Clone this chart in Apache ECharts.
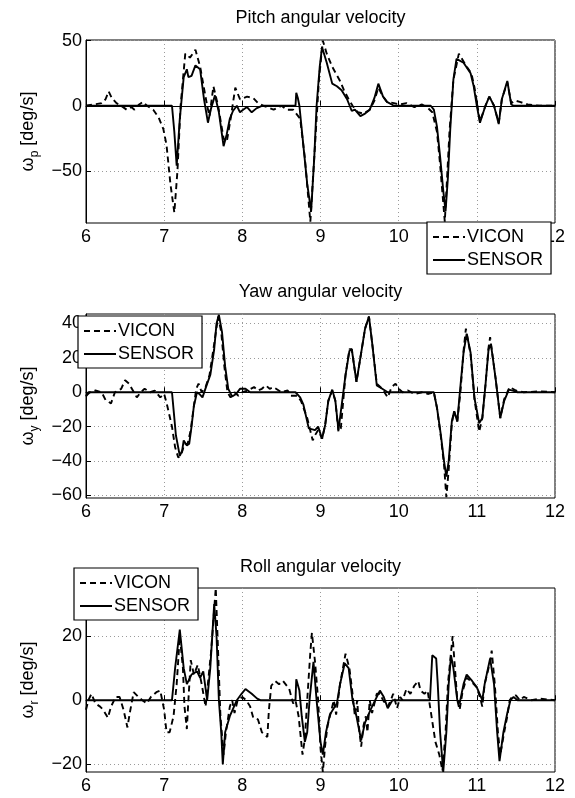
<!DOCTYPE html>
<html><head><meta charset="utf-8">
<script src="https://cdn.jsdelivr.net/npm/echarts@6/dist/echarts.min.js"></script>
<style>html,body{margin:0;padding:0;background:#fff}#c{width:575px;height:798px}</style>
</head><body><div id="c"></div>
<script>
const xTicks = [6, 7, 8, 9, 10, 11, 12];
const titles = ['Pitch angular velocity', 'Yaw angular velocity', 'Roll angular velocity'];
const ySubs = ['p', 'y', 'r'];
const yTicksPitch = [-50, 0, 50];
const yTicksYaw = [-60, -40, -20, 0, 20, 40];
const yTicksRoll = [-20, 0, 20];
const seriesNames = ['VICON', 'SENSOR'];

const pitchVicon = [[6,0],[6.1,1],[6.2,2],[6.25,5],[6.29,11],[6.33,6],[6.39,2],[6.45,0],[6.52,-3],[6.58,-1],[6.62,-3],[6.68,1],[6.73,3],[6.78,0],[6.86,-3],[6.93,-9],[6.99,-18],[7.03,-30],[7.08,-60],[7.13,-82],[7.17,-50],[7.21,0],[7.27,40],[7.33,37],[7.4,43],[7.46,30],[7.55,0],[7.58,-8],[7.63,15],[7.69,0],[7.76,-25],[7.8,-28],[7.85,-10],[7.91,14],[7.97,5],[8.06,7],[8.14,6],[8.2,2],[8.27,0],[8.4,-3],[8.5,0],[8.57,-3],[8.65,-3],[8.74,-10],[8.8,-40],[8.87,-89],[8.93,-30],[8.98,20],[9.03,50],[9.08,40],[9.15,30],[9.25,19],[9.3,12],[9.36,5],[9.41,0],[9.48,-5],[9.55,-6],[9.63,-3],[9.69,4],[9.74,14],[9.79,8],[9.85,3],[9.94,2],[10.02,1],[10.1,2],[10.2,-1],[10.3,1],[10.38,-2],[10.43,-5],[10.49,-20],[10.53,-45],[10.59,-89],[10.65,-20],[10.7,20],[10.77,40],[10.83,34],[10.87,30],[10.93,25],[10.97,14],[11.04,-12],[11.11,0],[11.16,7],[11.22,0],[11.28,-13],[11.32,5],[11.39,18],[11.44,2],[11.49,4],[11.55,3],[11.65,1],[11.8,0],[12,0]];
const pitchSensor = [[6,0],[7.1,0],[7.13,-20],[7.16,-46],[7.2,-10],[7.25,22],[7.29,28],[7.31,22],[7.35,23],[7.4,31],[7.46,28],[7.51,5],[7.56,-13],[7.6,-2],[7.65,8],[7.7,-5],[7.76,-31],[7.8,-22],[7.84,-10],[7.88,-4],[7.93,0],[7.97,-5],[8.01,-3],[8.06,-1],[8.12,-5],[8.18,-2],[8.25,0],[8.68,0],[8.69,10],[8.71,6],[8.73,0],[8.78,-30],[8.83,-60],[8.88,-81],[8.92,-40],[8.95,0],[8.99,30],[9.02,45],[9.08,33],[9.15,17],[9.21,15],[9.27,12],[9.34,5],[9.4,-4],[9.44,-3],[9.51,-8],[9.57,-6],[9.63,-3],[9.69,6],[9.74,17],[9.8,7],[9.85,3],[9.94,0],[10.41,0],[10.45,-3],[10.49,-16],[10.53,-39],[10.57,-65],[10.6,-81],[10.63,-55],[10.66,-18],[10.7,20],[10.74,36],[10.83,33],[10.92,25],[10.96,15],[11.0,0],[11.04,-13],[11.11,0],[11.16,7],[11.22,0],[11.28,-14],[11.32,5],[11.39,19],[11.44,1],[11.47,0],[12,0]];

const yawVicon = [[6,-2],[6.05,0],[6.12,1],[6.2,0],[6.25,-4.5],[6.32,-6.5],[6.37,0],[6.45,2],[6.5,7],[6.55,5],[6.6,1],[6.65,-3],[6.7,0],[6.75,2],[6.82,0],[6.88,1],[6.95,-3],[7.0,-1],[7.04,-8],[7.1,-20],[7.14,-32],[7.18,-38],[7.22,-36],[7.26,-30],[7.3,-30],[7.34,-22],[7.38,-8],[7.41,2],[7.44,5],[7.48,0],[7.53,3],[7.58,10],[7.63,25],[7.69,44],[7.73,35],[7.77,15],[7.81,0],[7.85,-3],[7.9,0],[7.95,-2],[8.0,0],[8.07,1],[8.15,3],[8.2,1],[8.25,2],[8.3,4],[8.35,2],[8.4,3],[8.5,0],[8.58,1],[8.62,-2],[8.7,-2],[8.75,-5],[8.83,-15],[8.9,-28],[8.93,-25],[8.97,-22],[9.02,-27],[9.06,-19],[9.1,-5],[9.15,1],[9.19,-5],[9.23,-23],[9.26,-21],[9.32,10],[9.37,25],[9.4,25],[9.46,6],[9.51,20],[9.57,37],[9.62,44],[9.66,29],[9.72,5],[9.79,2],[9.86,-3],[9.91,3],[9.96,5],[10.0,2],[10.05,0],[10.12,1],[10.2,-1],[10.3,0],[10.38,-1],[10.45,0],[10.49,-9],[10.54,-26],[10.58,-42],[10.61,-61],[10.64,-45],[10.68,-18],[10.71,-11],[10.75,-17],[10.79,0],[10.83,24],[10.86,37],[10.92,22],[10.97,-4],[11.03,-23],[11.07,-15],[11.11,4],[11.15,26],[11.17,32],[11.24,8],[11.3,-15],[11.35,-4],[11.42,3],[11.5,1],[11.6,0],[11.8,0.5],[12,0]];
const yawSensor = [[6,-2.5],[6.03,0],[7.1,0],[7.12,-10],[7.15,-25],[7.2,-37],[7.23,-34],[7.25,-28],[7.29,-31],[7.32,-30],[7.35,-20],[7.38,-8],[7.42,0],[7.45,-1],[7.49,-3],[7.55,5],[7.59,10],[7.64,25],[7.67,40],[7.7,45],[7.74,35],[7.78,15],[7.82,2],[7.87,-2.5],[7.92,-1],[7.97,2],[8.04,2],[8.1,0],[8.68,0],[8.74,-3],[8.78,-7],[8.85,-21],[8.93,-22],[8.97,-20],[9.02,-27],[9.06,-19],[9.1,-5],[9.15,1.5],[9.19,-5],[9.23,-22],[9.25,-21],[9.32,10],[9.37,24],[9.4,25],[9.46,6],[9.51,20],[9.57,37],[9.62,44],[9.66,29],[9.72,4],[9.79,2],[9.86,0],[10.45,0],[10.49,-9],[10.54,-25],[10.58,-40],[10.61,-49],[10.64,-40],[10.68,-17],[10.71,-11],[10.75,-17],[10.78,-1.5],[10.83,23],[10.87,34],[10.92,23],[10.97,-3.5],[11.03,-18],[11.07,-15],[11.11,4],[11.15,25],[11.18,28],[11.24,8],[11.3,-15],[11.35,-5],[11.41,1.5],[11.47,0.8],[11.52,0],[12,0]];

const rollVicon = [[6,-3],[6.03,0],[6.07,2],[6.12,-1],[6.18,-2],[6.22,-3],[6.28,-5.5],[6.32,-2],[6.38,1],[6.43,1],[6.48,-3],[6.53,-8.5],[6.56,-4],[6.61,2.5],[6.67,1],[6.72,0],[6.78,-1],[6.83,1],[6.9,2.5],[6.95,3],[7.0,-3],[7.03,-10],[7.07,-10],[7.12,-5],[7.16,5],[7.2,20],[7.24,10],[7.26,-2],[7.29,-9],[7.31,0],[7.34,12.5],[7.38,8],[7.43,11],[7.48,5],[7.53,-2],[7.6,15],[7.66,35],[7.69,15],[7.72,-5],[7.76,-17],[7.79,-10],[7.84,-2],[7.87,0],[7.9,-4],[7.94,0],[8.0,1],[8.05,0],[8.1,-2],[8.14,-5.5],[8.2,-6],[8.25,-10],[8.32,-11.5],[8.34,-3],[8.37,4.5],[8.42,6],[8.47,5],[8.52,6],[8.6,3.5],[8.65,-1],[8.68,0],[8.72,-5],[8.77,-17],[8.8,-12],[8.83,0],[8.87,15],[8.89,21],[8.93,12],[8.97,0],[9.0,-15],[9.03,-22.4],[9.06,-14],[9.09,-8],[9.12,-5],[9.17,0],[9.2,-4.5],[9.25,5],[9.32,14.5],[9.37,10],[9.41,2],[9.44,-5],[9.47,0],[9.49,-8],[9.52,-14.5],[9.55,-8],[9.58,-5],[9.6,-10],[9.63,0],[9.66,-4],[9.72,2],[9.76,2],[9.8,0],[9.86,-2],[9.9,0],[9.93,2],[9.98,-2.5],[10.02,1],[10.05,0],[10.1,3.5],[10.15,2],[10.2,4.5],[10.25,6],[10.28,3],[10.33,2],[10.37,3],[10.42,-5],[10.47,-13],[10.52,-17],[10.56,-22],[10.6,-10],[10.63,5],[10.69,20],[10.72,10],[10.75,0],[10.78,-3],[10.82,3],[10.87,7],[10.92,6],[11.0,4],[11.05,0],[11.07,-2],[11.1,5],[11.17,12],[11.19,15.5],[11.23,5],[11.27,-10],[11.3,-17],[11.35,-10],[11.39,-5],[11.42,0],[11.45,1],[11.5,1.5],[11.55,0],[11.6,1],[11.7,0],[11.8,0.5],[12,0]];
const rollSensor = [[6,0],[7.1,0],[7.14,10],[7.2,22],[7.25,10],[7.29,5],[7.35,8],[7.42,9],[7.46,7],[7.5,9],[7.55,0],[7.59,10],[7.64,30],[7.67,20],[7.7,0],[7.73,-10],[7.75,-20],[7.78,-10],[7.84,-5],[7.93,0],[7.99,2],[8.04,3.5],[8.12,2],[8.19,0.5],[8.23,0],[8.68,0],[8.69,6.5],[8.73,3],[8.76,-5],[8.8,-13],[8.83,-10],[8.86,0],[8.91,12],[8.95,0],[9.0,-13],[9.03,-17],[9.07,-10],[9.12,-4.5],[9.17,-2.5],[9.21,-1],[9.25,5],[9.31,11.5],[9.36,10],[9.41,0],[9.46,-5],[9.52,-12.5],[9.57,-7],[9.64,-3],[9.7,0],[9.76,3],[9.81,1],[9.86,-2.5],[9.92,0],[10.4,0],[10.43,14],[10.48,13],[10.5,5],[10.53,-10],[10.57,-22.4],[10.61,-10],[10.64,5],[10.67,14],[10.7,10],[10.75,0],[10.78,-1],[10.83,5],[10.87,8],[10.94,6],[11.0,4],[11.07,0],[11.1,5],[11.17,13],[11.22,5],[11.26,-10],[11.29,-19],[11.34,-10],[11.39,-4],[11.43,0],[11.47,1],[11.52,0],[12,0]];

const FONT = '"Liberation Sans", Arial, Helvetica, sans-serif';
const chart = echarts.init(document.getElementById('c'), null, {renderer: 'canvas'});

const gridsPos = [
  {top: 40, height: 183},
  {top: 314, height: 184},
  {top: 588, height: 184}
];
const yRanges = [[-90, 50.5], [-61.5, 45.5], [-22.4, 35]];
const yTickSets = [yTicksPitch, yTicksYaw, yTicksRoll];
const dataSets = [[pitchVicon, pitchSensor], [yawVicon, yawSensor], [rollVicon, rollSensor]];
const titleTops = [9, 283, 558];
const legendPos = [
  {left: 427, top: 222},
  {left: 78, top: 316},
  {left: 74, top: 568}
];
const minus = v => String(v).replace('-', '\u2212');

const option = {
  backgroundColor: '#fff',
  animation: false,
  textStyle: {fontFamily: FONT},
  title: titles.map((t, i) => ({
    text: t, left: 320.5, textAlign: 'center', top: titleTops[i], padding: 0,
    textStyle: {fontSize: 18, fontWeight: 'normal', color: '#000', fontFamily: FONT}
  })),
  grid: gridsPos.map(g => ({left: 86, right: 20, top: g.top, height: g.height, show: true, borderColor: '#000', borderWidth: 1, containLabel: false})),
  xAxis: gridsPos.map((g, i) => ({
    type: 'value', gridIndex: i, min: 6, max: 12, interval: 1,
    axisLine: {show: true, lineStyle: {color: '#000', width: 1}},
    axisTick: {show: true, inside: true, length: 5, lineStyle: {color: '#000'}},
    axisLabel: {color: '#000', fontSize: 18, margin: 5, fontFamily: FONT, formatter: v => xTicks.includes(v) ? String(v) : ''},
    splitLine: {show: true, lineStyle: {color: '#9a9a9a', type: [1, 3], width: 1}}
  })),
  yAxis: gridsPos.map((g, i) => ({
    type: 'value', gridIndex: i, min: yRanges[i][0], max: yRanges[i][1],
    name: '{a|\u03c9}{b|' + ySubs[i] + '}{a| [deg/s]}',
    nameLocation: 'middle', nameRotate: 90, nameGap: 43,
    nameTextStyle: {color: '#000', fontFamily: FONT, rich: {
      a: {fontSize: 18, lineHeight: 26, color: '#000', fontFamily: FONT},
      b: {fontSize: 12, lineHeight: 12, verticalAlign: 'bottom', color: '#000', fontFamily: FONT}
    }},
    axisLine: {show: true, lineStyle: {color: '#000', width: 1}},
    axisTick: {show: true, inside: true, length: 5, customValues: yTickSets[i], lineStyle: {color: '#000'}},
    axisLabel: {color: '#000', fontSize: 18, margin: 4, fontFamily: FONT, customValues: yTickSets[i], formatter: v => minus(v)},
    splitLine: {show: true, lineStyle: {color: '#9a9a9a', type: [1, 3], width: 1}}
  })),
  legend: legendPos.map(p => ({
    left: p.left, top: p.top, orient: 'vertical', data: seriesNames,
    selectedMode: false, backgroundColor: '#fff', borderColor: '#000', borderWidth: 1.2,
    padding: [6, 8, 5, 5], itemGap: 5, itemWidth: 32, itemHeight: 14, z: 10,
    itemStyle: {opacity: 0, color: 'rgba(0,0,0,0)', borderWidth: 0},
    textStyle: {fontSize: 18, color: '#000', fontFamily: FONT, padding: [0, 0, 0, -3]}
  })),
  series: []
};
dataSets.forEach((pair, i) => {
  pair.forEach((d, k) => {
    option.series.push({
      name: seriesNames[k], type: 'line', xAxisIndex: i, yAxisIndex: i,
      data: d, showSymbol: false, symbol: 'none', clip: true,
      lineStyle: {color: '#000', width: 1.9, type: k === 0 ? [6, 4] : 'solid'},
      itemStyle: {color: '#000'}, z: k === 0 ? 2 : 3
    });
  });
});
chart.setOption(option);
</script></body></html>
